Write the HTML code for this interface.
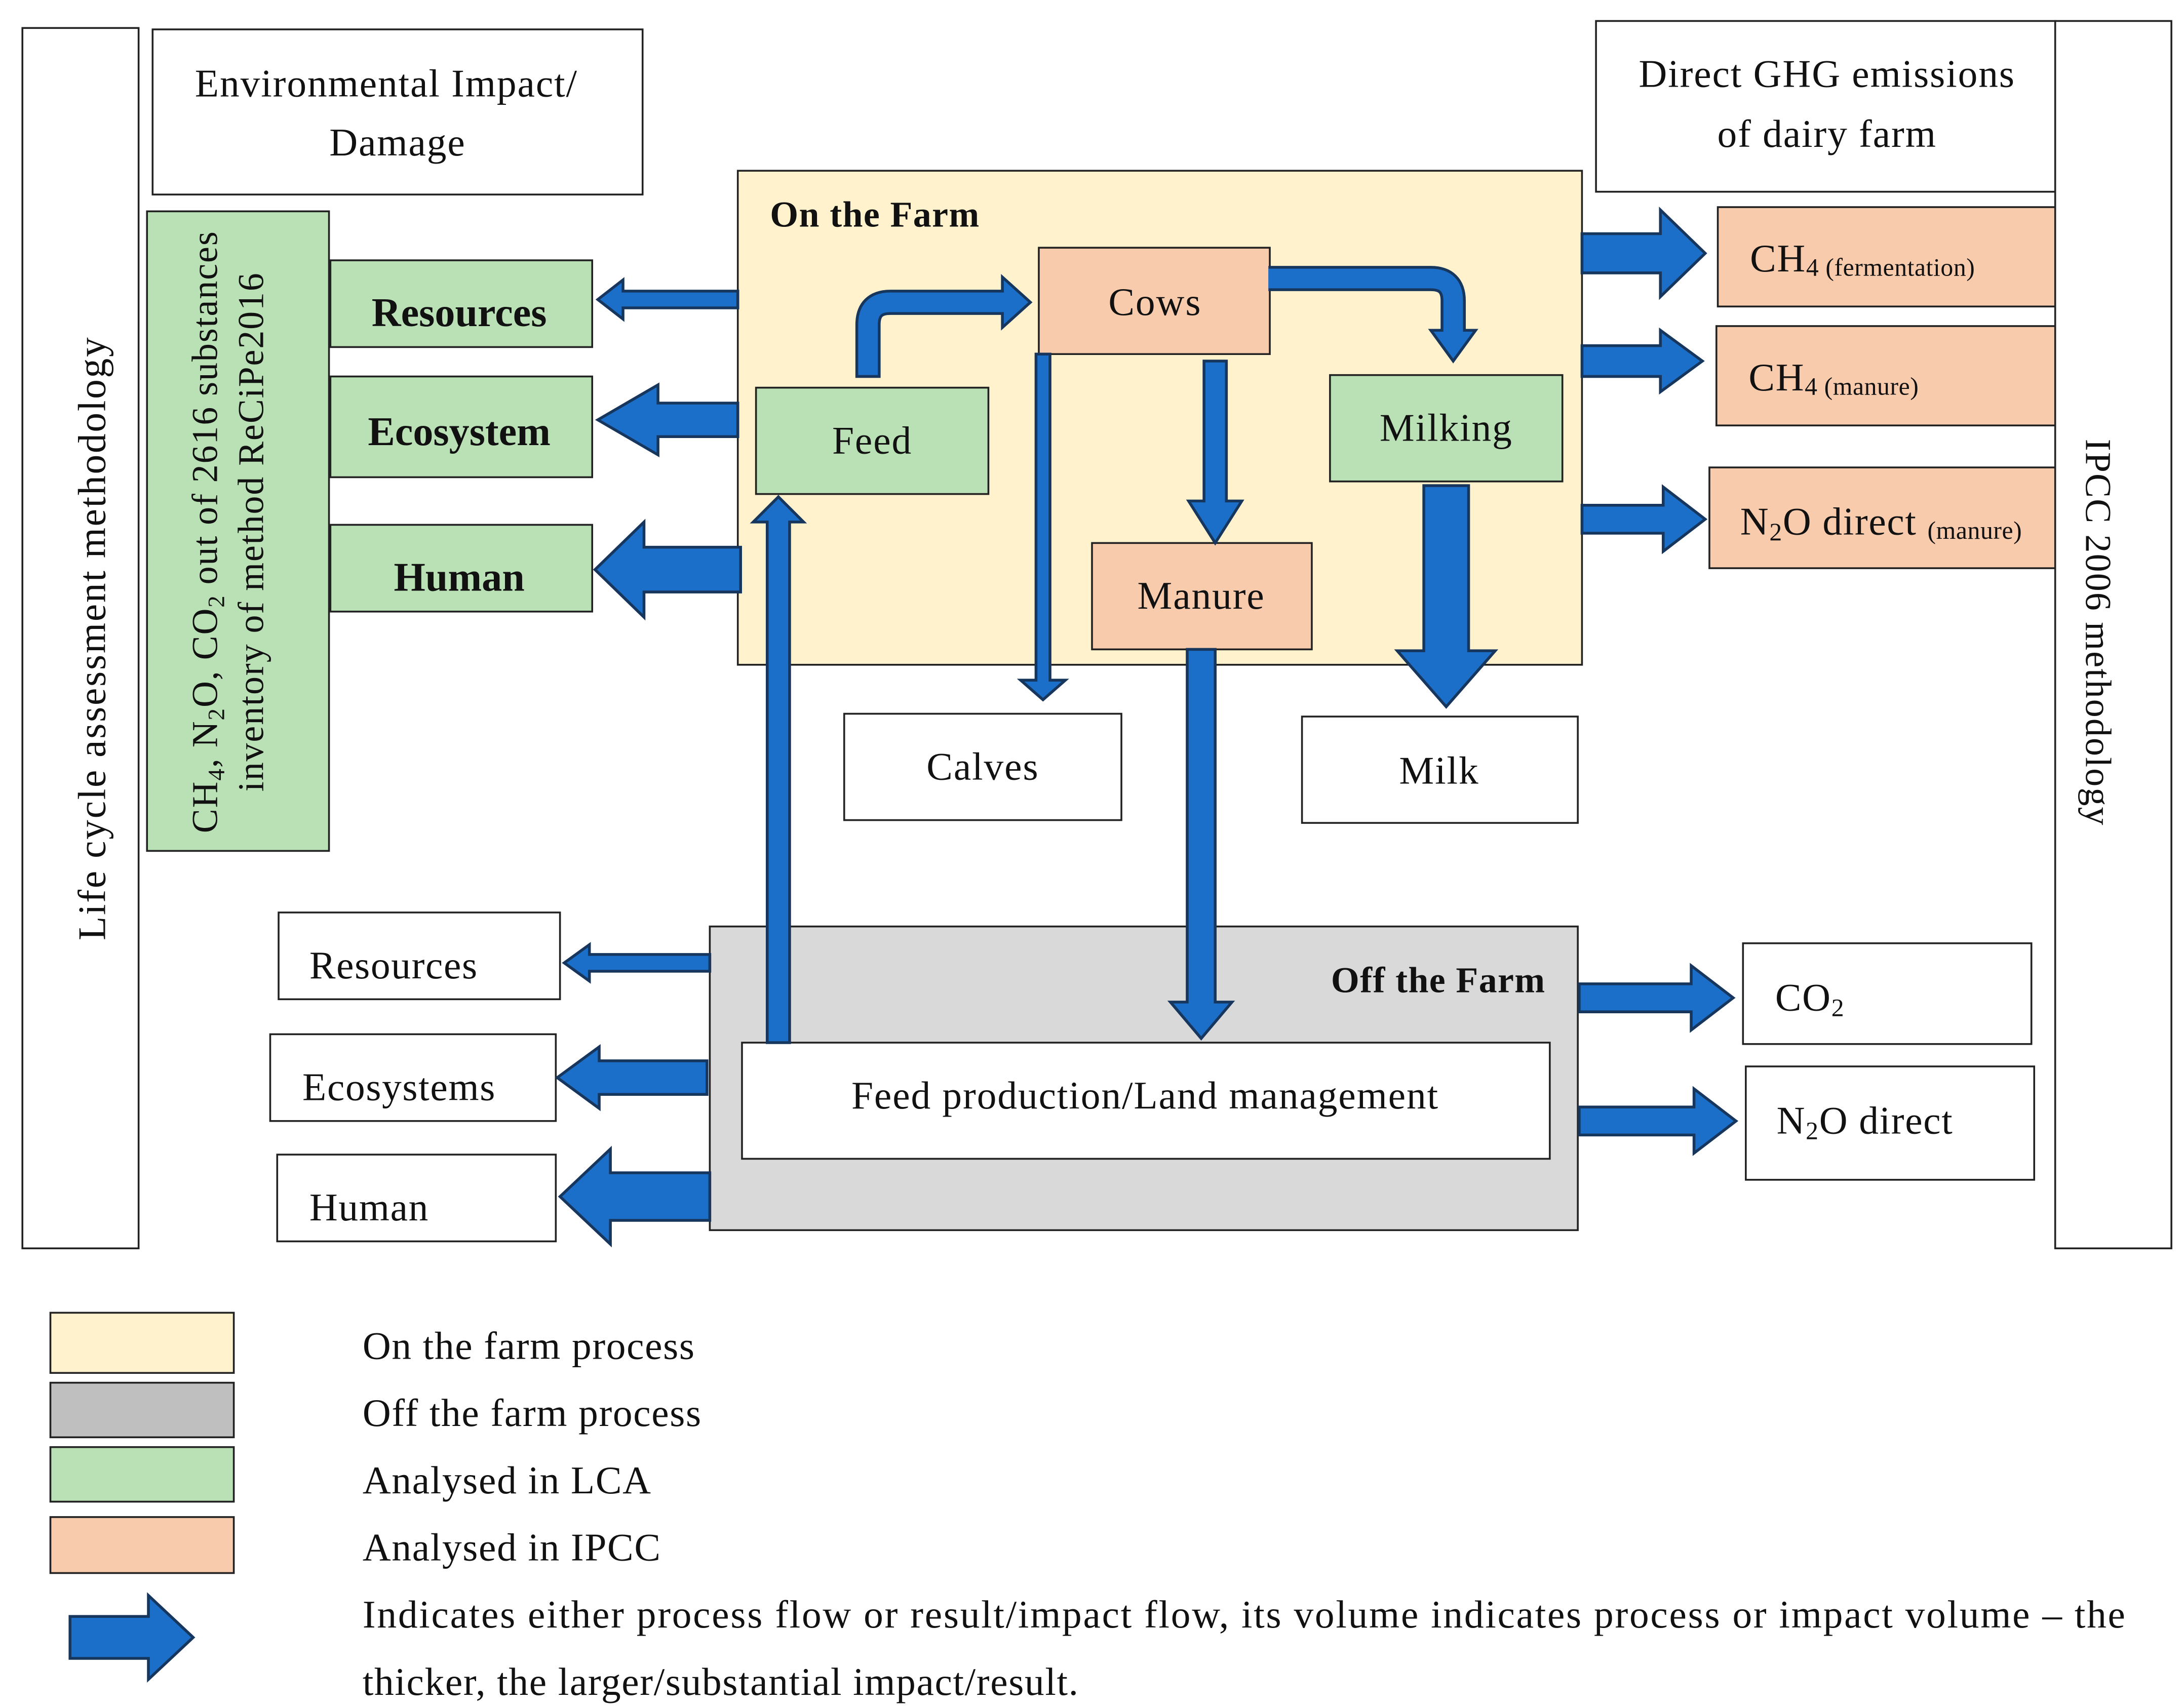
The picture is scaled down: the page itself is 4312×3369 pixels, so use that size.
<!DOCTYPE html>
<html><head><meta charset="utf-8"><style>html,body{margin:0;padding:0;background:#fff}svg{display:block}</style></head><body>
<svg xmlns="http://www.w3.org/2000/svg" width="4312" height="3369" viewBox="0 0 1560 1219" preserveAspectRatio="none" font-family="Liberation Serif, serif">
<rect width="1560" height="1219" fill="#fff"/>
<g stroke="#222" stroke-width="1.3">
<rect x="16" y="20" width="83" height="872" fill="#fff"/>
<rect x="1468" y="15" width="83" height="877" fill="#fff"/>
<rect x="109" y="21" width="350" height="118" fill="#fff"/>
<rect x="1140" y="15" width="328" height="122" fill="#fff"/>
<rect x="105" y="151" width="130" height="457" fill="#bae0b5"/>
<rect x="236" y="186" width="187" height="62" fill="#bae0b5"/>
<rect x="236" y="269" width="187" height="72" fill="#bae0b5"/>
<rect x="236" y="375" width="187" height="62" fill="#bae0b5"/>
<rect x="527" y="122" width="603" height="353" fill="#fff2cc"/>
<rect x="507" y="662" width="620" height="217" fill="#d9d9d9"/>
<rect x="530" y="745" width="577" height="83" fill="#fff"/>
<rect x="540" y="277" width="166" height="76" fill="#bae0b5"/>
<rect x="742" y="177" width="165" height="76" fill="#f8cbad"/>
<rect x="950" y="268" width="166" height="76" fill="#bae0b5"/>
<rect x="780" y="388" width="157" height="76" fill="#f8cbad"/>
<rect x="603" y="510" width="198" height="76" fill="#fff"/>
<rect x="930" y="512" width="197" height="76" fill="#fff"/>
<rect x="199" y="652" width="201" height="62" fill="#fff"/>
<rect x="193" y="739" width="204" height="62" fill="#fff"/>
<rect x="198" y="825" width="199" height="62" fill="#fff"/>
<rect x="1227" y="148" width="241" height="71" fill="#f8cbad"/>
<rect x="1226" y="233" width="242" height="71" fill="#f8cbad"/>
<rect x="1221" y="334" width="247" height="72" fill="#f8cbad"/>
<rect x="1245" y="674" width="206" height="72" fill="#fff"/>
<rect x="1247" y="762" width="206" height="81" fill="#fff"/>
<rect x="36" y="938" width="131" height="43" fill="#fff2cc"/>
<rect x="36" y="988" width="131" height="39" fill="#bfbfbf"/>
<rect x="36" y="1034" width="131" height="39" fill="#bae0b5"/>
<rect x="36" y="1084" width="131" height="40" fill="#f8cbad"/>
</g>
<g fill="#1b6fc8" stroke="#17365d" stroke-width="2" stroke-linejoin="miter">
<polygon points="527,208 445,208 445,200 427,214 445,228 445,220 527,220"/>
<polygon points="527,288 470,288 470,275 427,300 470,325 470,312 527,312"/>
<polygon points="529,391 460,391 460,373 425,407 460,441 460,423 529,423"/>
<polygon points="507,682 421,682 421,675 403,688 421,701 421,694 507,694"/>
<polygon points="505,758 428,758 428,748 398,770 428,792 428,782 505,782"/>
<polygon points="507,838 436,838 436,821 400,855 436,889 436,872 507,872"/>
<polygon points="1130,167 1186,167 1186,150 1218,181 1186,212 1186,195 1130,195"/>
<polygon points="1130,247 1186,247 1186,236 1216,258 1186,280 1186,269 1130,269"/>
<polygon points="1130,361 1188,361 1188,348 1218,371 1188,394 1188,381 1130,381"/>
<polygon points="1128,703 1208,703 1208,690 1238,713 1208,736 1208,723 1128,723"/>
<polygon points="1128,791 1210,791 1210,778 1240,801 1210,824 1210,811 1128,811"/>
<polygon points="740,253 750,253 750,486 761,486 745,500 729,486 740,486"/>
<polygon points="860,258 876,258 876,358 887,358 868,388 849,358 860,358"/>
<polygon points="1017,347 1049,347 1049,465 1068,465 1033,505 998,465 1017,465"/>
<polygon points="848,464 868,464 868,716 880,716 858,742 836,716 848,716"/>
<polygon points="548,745 564,745 564,373 574,373 556,355 538,373 548,373"/>
<polygon points="50,1155 106,1155 106,1140 138,1170 106,1200 106,1185 50,1185"/>
<polygon points="716,198 736,216 716,234"/>
<polygon points="1022,236 1038,258 1054,236"/>
</g>
<path d="M620 270 V232 Q620 216 636 216 H717" fill="none" stroke="#17365d" stroke-width="18"/>
<path d="M620 268 V232 Q620 216 636 216 H718" fill="none" stroke="#1b6fc8" stroke-width="14"/>
<path d="M906 199 H1022 Q1038 199 1038 215 V237" fill="none" stroke="#17365d" stroke-width="18"/>
<path d="M906 199 H1022 Q1038 199 1038 215 V238" fill="none" stroke="#1b6fc8" stroke-width="14"/>
<g fill="#111" font-size="28" letter-spacing="0.7" text-anchor="middle">
<text x="276" y="69">Environmental Impact/</text>
<text x="284" y="111">Damage</text>
<text x="1305" y="62">Direct GHG emissions</text>
<text x="1305" y="105">of dairy farm</text>
<text transform="translate(75,456) rotate(-90)" font-size="28" letter-spacing="1">Life cycle assessment methodology</text>
<text transform="translate(1490,452) rotate(90)" font-size="26" letter-spacing="0.8">IPCC 2006 methodology</text>
<text transform="translate(155,380) rotate(-90)" font-size="26">CH<tspan font-size="17" dy="5">4</tspan><tspan dy="-5">, N</tspan><tspan font-size="17" dy="5">2</tspan><tspan dy="-5">O, CO</tspan><tspan font-size="17" dy="5">2</tspan><tspan dy="-5"> out of 2616 substances</tspan></text>
<text transform="translate(188,380) rotate(-90)" font-size="26">inventory of method ReCiPe2016</text>
<text x="328" y="233" font-size="29" font-weight="bold" letter-spacing="0">Resources</text>
<text x="328" y="318" font-size="29" font-weight="bold" letter-spacing="0">Ecosystem</text>
<text x="328" y="422" font-size="29" font-weight="bold" letter-spacing="0">Human</text>
<text x="623" y="324">Feed</text>
<text x="825" y="225">Cows</text>
<text x="1033" y="315">Milking</text>
<text x="858" y="435">Manure</text>
<text x="702" y="557">Calves</text>
<text x="1028" y="560">Milk</text>
<text x="818" y="792">Feed production/Land management</text>
</g>
<g fill="#111" font-size="28" letter-spacing="0.6">
<text x="550" y="162" font-weight="bold" font-size="26" letter-spacing="0.5">On the Farm</text>
<text x="1104" y="709" font-weight="bold" font-size="26" letter-spacing="0.5" text-anchor="end">Off the Farm</text>
<text x="221" y="699">Resources</text>
<text x="216" y="786">Ecosystems</text>
<text x="221" y="872">Human</text>
<text x="1250" y="194">CH<tspan font-size="18" letter-spacing="0.2" dy="3">4 (fermentation)</tspan></text>
<text x="1249" y="279">CH<tspan font-size="18" letter-spacing="0.2" dy="3">4 (manure)</tspan></text>
<text x="1243" y="382">N<tspan font-size="18" dy="4">2</tspan><tspan dy="-4">O direct </tspan><tspan font-size="18" letter-spacing="0.2" dy="3">(manure)</tspan></text>
<text x="1268" y="722">CO<tspan font-size="18" dy="4">2</tspan></text>
<text x="1269" y="810">N<tspan font-size="18" dy="4">2</tspan><tspan dy="-4">O direct</tspan></text>
<text x="259" y="971">On the farm process</text>
<text x="259" y="1019">Off the farm process</text>
<text x="259" y="1067">Analysed in LCA</text>
<text x="259" y="1115">Analysed in IPCC</text>
<text x="259" y="1163" textLength="1259" lengthAdjust="spacing" letter-spacing="0">Indicates either process flow or result/impact flow, its volume indicates process or impact volume – the</text>
<text x="259" y="1211">thicker, the larger/substantial impact/result.</text>
</g>
</svg>
</body></html>
